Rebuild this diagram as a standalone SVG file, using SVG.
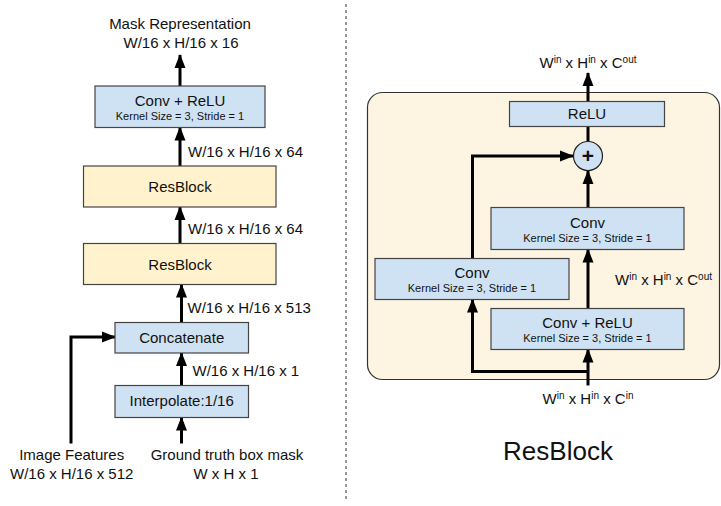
<svg xmlns="http://www.w3.org/2000/svg" width="721" height="506" viewBox="0 0 721 506">
<style>
text{font-family:"Liberation Sans",Arial,sans-serif;fill:#111;}
.t15{font-size:15px;}
.t11{font-size:11px;}
.c{text-anchor:middle;}
.blue{fill:#cfe2f3;stroke:#444;stroke-width:1.2;}
.yel{fill:#fff2cc;stroke:#444;stroke-width:1.2;}
.ln{fill:none;stroke:#000;stroke-width:3;}
.arr{fill:none;stroke:#000;stroke-width:3;marker-end:url(#ah);}
.sup{font-size:10px;}
</style>
<defs>
<marker id="ah" markerUnits="userSpaceOnUse" markerWidth="14" markerHeight="12" refX="13" refY="6" orient="auto">
<path d="M0,0.5 L14,6 L0,11.5 z" fill="#000"/>
</marker>
</defs>
<rect width="721" height="506" fill="#fff"/>
<line x1="346" y1="4" x2="346" y2="502" stroke="#333" stroke-width="1" stroke-dasharray="3,3"/>

<!-- right panel background -->
<g id="resblock-panel">
<rect x="367.5" y="92.5" width="352" height="287" rx="15" ry="15" fill="#fef4e2" stroke="#333" stroke-width="1.2"/>
</g>

<g id="connectors">
<line class="arr" x1="180" y1="86" x2="180" y2="55"/>
<line class="arr" x1="180" y1="166" x2="180" y2="127.5"/>
<line class="arr" x1="180" y1="243.5" x2="180" y2="207"/>
<line class="arr" x1="181.5" y1="322.5" x2="181.5" y2="284.5"/>
<line class="arr" x1="181.5" y1="385.5" x2="181.5" y2="353"/>
<line class="arr" x1="181.5" y1="443.5" x2="181.5" y2="417.5"/>
<polyline class="arr" points="71,443.5 71,337 115,337"/>

<line class="arr" x1="588" y1="101.5" x2="588" y2="73"/>
<line class="ln" x1="588" y1="126.5" x2="588" y2="141"/>
<polyline class="arr" points="472.5,258.5 472.5,156 573,156"/>
<line class="arr" x1="588" y1="207.5" x2="588" y2="171"/>
<line class="arr" x1="588" y1="308.5" x2="588" y2="249.5"/>
<line class="arr" x1="588" y1="385.5" x2="588" y2="349.5"/>
<polyline class="arr" points="588,371.5 472.5,371.5 472.5,299.5"/>
</g>

<g id="mask-representation">
<text class="t15 c" x="180" y="29">Mask Representation</text>
<text class="t15 c" x="181" y="48">W/16 x H/16 x 16</text>
</g>
<g id="conv-relu-left">
<rect class="blue" x="95" y="86" width="170" height="41.5"/>
<text class="t15 c" x="180" y="106">Conv + ReLU</text>
<text class="t11 c" x="180" y="120">Kernel Size = 3, Stride = 1</text>
</g>
<text class="t15" x="188" y="157">W/16 x H/16 x 64</text>
<g id="resblock-1">
<rect class="yel" x="83.5" y="166" width="192.5" height="41"/>
<text class="t15 c" x="180" y="192">ResBlock</text>
</g>
<text class="t15" x="188" y="234">W/16 x H/16 x 64</text>
<g id="resblock-2">
<rect class="yel" x="83.5" y="243.5" width="192.5" height="41"/>
<text class="t15 c" x="180" y="269.5">ResBlock</text>
</g>
<text class="t15" x="187.5" y="312.5">W/16 x H/16 x 513</text>
<g id="concatenate">
<rect class="blue" x="115" y="322.5" width="133.5" height="30.5"/>
<text class="t15 c" x="181.7" y="342.5">Concatenate</text>
</g>
<text class="t15" x="192.5" y="376">W/16 x H/16 x 1</text>
<g id="interpolate">
<rect class="blue" x="115" y="385.5" width="133.5" height="32"/>
<text class="t15 c" x="181.7" y="406">Interpolate:1/16</text>
</g>
<g id="image-features">
<text class="t15 c" x="71.7" y="460">Image Features</text>
<text class="t15 c" x="71.7" y="478.5">W/16 x H/16 x 512</text>
</g>
<g id="gt-mask">
<text class="t15 c" x="227" y="460">Ground truth box mask</text>
<text class="t15 c" x="226" y="478.5">W x H x 1</text>
</g>

<g id="out-label">
<text class="t15 c" x="588" y="68">W<tspan class="sup" dy="-5">in</tspan><tspan dy="5"> x H</tspan><tspan class="sup" dy="-5">in</tspan><tspan dy="5"> x C</tspan><tspan class="sup" dy="-5">out</tspan></text>
</g>
<g id="relu">
<rect class="blue" x="509.5" y="101.5" width="155" height="25"/>
<text class="t15 c" x="587" y="119">ReLU</text>
</g>
<g id="add">
<circle cx="588" cy="156" r="14.5" fill="#cfe2f3" stroke="#222" stroke-width="1.2"/>
<text class="c" x="588" y="163" style="font-size:21px;font-weight:bold">+</text>
</g>
<g id="conv-right">
<rect class="blue" x="491" y="207.5" width="193" height="42"/>
<text class="t15 c" x="587.5" y="228">Conv</text>
<text class="t11 c" x="587.5" y="241.5">Kernel Size = 3, Stride = 1</text>
</g>
<g id="conv-left">
<rect class="blue" x="375" y="258.5" width="194" height="41"/>
<text class="t15 c" x="472" y="277.5">Conv</text>
<text class="t11 c" x="472" y="291.5">Kernel Size = 3, Stride = 1</text>
</g>
<g id="mid-label">
<text class="t15" x="615" y="284.5">W<tspan class="sup" dy="-5">in</tspan><tspan dy="5"> x H</tspan><tspan class="sup" dy="-5">in</tspan><tspan dy="5"> x C</tspan><tspan class="sup" dy="-5">out</tspan></text>
</g>
<g id="conv-relu-right">
<rect class="blue" x="491" y="308.5" width="193" height="41"/>
<text class="t15 c" x="587.5" y="327.5">Conv + ReLU</text>
<text class="t11 c" x="587.5" y="342">Kernel Size = 3, Stride = 1</text>
</g>
<g id="in-label">
<text class="t15 c" x="588" y="403.5">W<tspan class="sup" dy="-5">in</tspan><tspan dy="5"> x H</tspan><tspan class="sup" dy="-5">in</tspan><tspan dy="5"> x C</tspan><tspan class="sup" dy="-5">in</tspan></text>
</g>
<g id="resblock-title">
<text class="c" x="558" y="459.5" style="font-size:26px">ResBlock</text>
</g>
</svg>
